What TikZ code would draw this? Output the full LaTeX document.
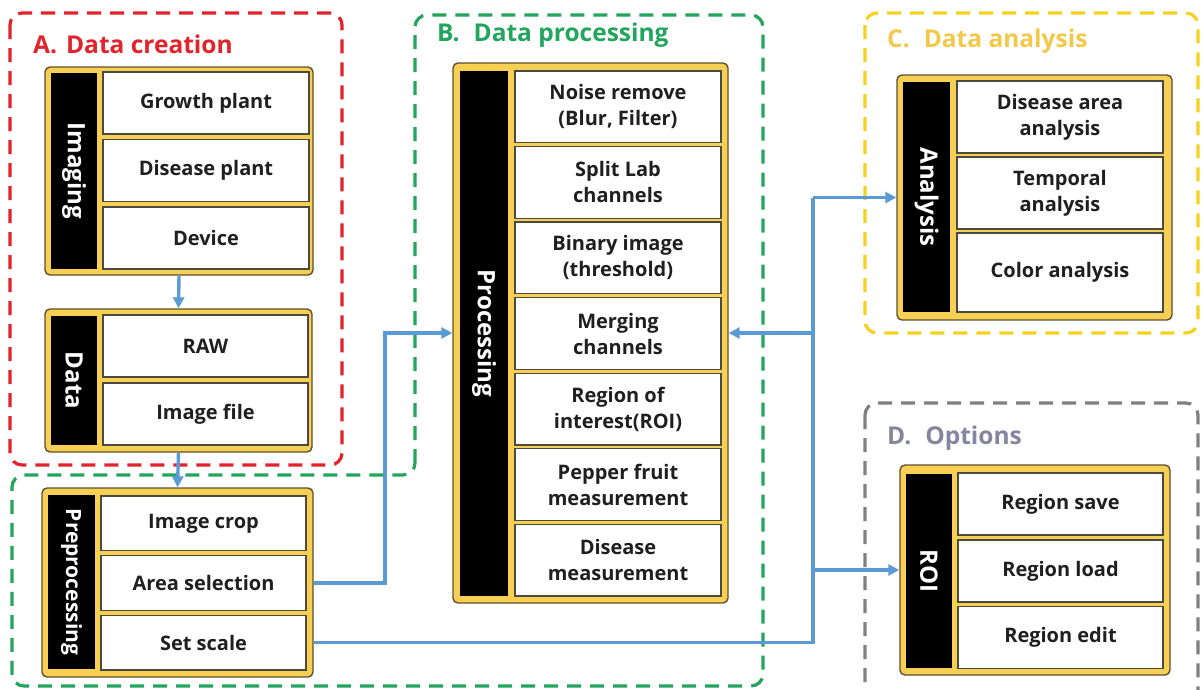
\documentclass[tikz,border=0pt]{standalone}
\usepackage{fontspec}
\setmainfont{Open Sans}
\usetikzlibrary{arrows.meta}

\definecolor{zoneRed}{HTML}{E3232C}
\definecolor{zoneGreen}{HTML}{23A55E}
\definecolor{zoneYellow}{HTML}{F6D220}
\definecolor{zoneGray}{HTML}{808080}
\definecolor{titleYellow}{HTML}{F2C94A}
\definecolor{titleGray}{HTML}{8585A0}
\definecolor{gold}{HTML}{F7CF52}
\definecolor{frameEdge}{HTML}{5E5030}
\definecolor{cellEdge}{HTML}{4A4A40}
\definecolor{wireBlue}{HTML}{5B9BD5}

\tikzset{
  zone/.style={line width=3.2pt, dash pattern=on 14pt off 9pt, rounded corners=12pt},
  frame/.style={draw=frameEdge, fill=gold, line width=1.4pt, rounded corners=5pt, inner sep=0pt},
  cell/.style={draw=cellEdge, fill=white, line width=1.3pt, inner sep=0pt, align=center,
    text=black!88, font=\bfseries\fontsize{20}{26}\selectfont},
  sidebar/.style={fill=black, draw=none, inner sep=0pt, rotate=-90, text=white,
    font=\bfseries\fontsize{24}{26}\selectfont},
  smallbar/.style={sidebar, font=\bfseries\fontsize{21}{23}\selectfont},
  heading/.style={anchor=west, inner sep=0pt, font=\bfseries\fontsize{24.5}{28}\selectfont},
  wire/.style={draw=wireBlue, line width=3.4pt},
  tip/.style={-{Triangle[length=11pt,width=11pt]}}
}

\begin{document}
\begin{tikzpicture}[x=1pt,y=-1pt]
\useasboundingbox (0,0) rectangle (1203,689);
\fill[white] (0,0) rectangle (1203,689);
\clip (0,0) rectangle (1203,689);

% ---------- dashed zones ----------
\draw[zone, draw=zoneRed] (10,13) rectangle (342,465);
\draw[zone, draw=zoneGreen] (415,475) -- (415,15) -- (763,15) -- (763,686) -- (12,686) -- (12,475) -- cycle;
\draw[zone, draw=zoneYellow] (865,13) rectangle (1198,333);
\draw[zone, draw=zoneGray] (865,403) rectangle (1198,730);

% ---------- zone headings ----------
\node[heading, text=zoneRed] (hA) at (33,44) {A.\hspace{9pt}Data creation};
\node[heading, text=zoneGreen] (hB) at (437,35) {B.\hspace{14pt}Data processing};
\node[heading, text=titleYellow] (hC) at (887,41) {C.\hspace{14pt}Data analysis};
\node[heading, text=titleGray] (hD) at (887,438) {D.\hspace{14pt}Options};

% ---------- A: imaging ----------
\node[frame, minimum width=268pt, minimum height=208pt] (img) at (179,171) {};
\node[sidebar, minimum width=196pt, minimum height=46pt] (imgbar) at (74,171) {Imaging};
\node[cell, minimum width=206pt, minimum height=62pt] (growth) at (206,103) {Growth plant};
\node[cell, minimum width=206pt, minimum height=62pt] (disease) at (206,170.5) {Disease plant};
\node[cell, minimum width=206pt, minimum height=62pt] (device) at (206,238) {Device};

% ---------- A: data ----------
\node[frame, minimum width=267pt, minimum height=143pt] (dat) at (178.5,380.5) {};
\node[sidebar, minimum width=129pt, minimum height=46pt] (datbar) at (74,380.5) {Data};
\node[cell, minimum width=205pt, minimum height=62pt] (raw) at (205.5,346) {RAW};
\node[cell, minimum width=205pt, minimum height=62pt] (file) at (205.5,414) {Image file};

% ---------- B: preprocessing ----------
\node[frame, minimum width=271pt, minimum height=189pt] (prep) at (177.5,582.5) {};
\node[smallbar, minimum width=174pt, minimum height=47pt] (prepbar) at (71.5,582) {Preprocessing};
\node[cell, minimum width=205pt, minimum height=54.7pt] (crop) at (203.5,523.3) {Image crop};
\node[cell, minimum width=205pt, minimum height=54.7pt] (area) at (203.5,583) {Area selection};
\node[cell, minimum width=205pt, minimum height=54.7pt] (scale) at (203.5,642.7) {Set scale};

% ---------- B: processing ----------
\node[frame, minimum width=275pt, minimum height=540pt] (proc) at (590.5,333) {};
\node[sidebar, minimum width=525pt, minimum height=48pt] (procbar) at (484,333.5) {Processing};
\node[cell, minimum width=206pt, minimum height=71.6pt] (noise) at (618,106.8) {Noise remove\\(Blur, Filter)};
\node[cell, minimum width=206pt, minimum height=71.6pt] (split) at (618,182.4) {Split Lab\\channels};
\node[cell, minimum width=206pt, minimum height=71.6pt] (binary) at (618,257.9) {Binary image\\(threshold)};
\node[cell, minimum width=206pt, minimum height=71.6pt] (merge) at (618,333.5) {Merging\\channels};
\node[cell, minimum width=206pt, minimum height=71.6pt] (region) at (618,409.1) {Region of\\interest(ROI)};
\node[cell, minimum width=206pt, minimum height=71.6pt] (pepper) at (618,484.6) {Pepper fruit\\measurement};
\node[cell, minimum width=206pt, minimum height=71.6pt] (dmeas) at (618,560.2) {Disease\\measurement};

% ---------- C: analysis ----------
\node[frame, minimum width=275pt, minimum height=245pt] (ana) at (1034.5,197.5) {};
\node[sidebar, minimum width=230pt, minimum height=47pt] (anabar) at (926.5,197) {Analysis};
\node[cell, minimum width=206pt, minimum height=72pt] (darea) at (1060,117) {Disease area\\analysis};
\node[cell, minimum width=206pt, minimum height=72pt] (temporal) at (1060,193) {Temporal\\analysis};
\node[cell, minimum width=206pt, minimum height=79pt] (color) at (1060,272.5) {Color analysis};

% ---------- D: ROI options ----------
\node[frame, minimum width=270pt, minimum height=210pt] (roi) at (1035,570) {};
\node[sidebar, minimum width=194pt, minimum height=46pt] (roibar) at (929,571) {ROI};
\node[cell, minimum width=205pt, minimum height=62pt] (rsave) at (1060.5,504) {Region save};
\node[cell, minimum width=205pt, minimum height=62pt] (rload) at (1060.5,571) {Region load};
\node[cell, minimum width=205pt, minimum height=62pt] (redit) at (1060.5,637.5) {Region edit};

% ---------- connectors ----------
\coordinate (bus) at (813,0);
\coordinate (jog) at (385,0);

\draw[wire, tip] (img.south) -- (dat.north);
\draw[wire, tip] (dat.south) -- (prep.north);

\draw[wire, tip] (prep.east |- area.center) -| (jog |- proc.west) -- (proc.west);

\draw[wire] (prep.east |- scale.center) -| (bus |- ana.west);
\draw[wire, tip] (bus |- ana.west) -- (ana.west);
\draw[wire, tip] (bus |- proc.east) -- (proc.east);
\draw[wire, tip] (bus |- roi.west) -- (roi.west);
\end{tikzpicture}
\end{document}
